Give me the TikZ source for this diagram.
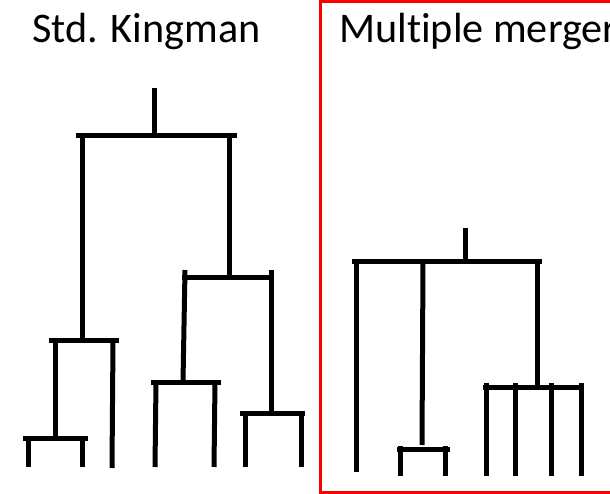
\documentclass[tikz,border=0pt]{standalone}
\usepackage{fontspec}
\setmainfont{Carlito}[Ligatures=NoCommon]
\begin{document}
\begin{tikzpicture}[x=1pt,y=-1pt,
  br/.style={line width=5pt, black},
  ttl/.style={anchor=base west, inner sep=0pt, font=\fontsize{42.2}{42}\selectfont}]
\useasboundingbox (0,0) rectangle (610,494);
\clip (0,0) rectangle (610,494);
% titles
\node[ttl] (t1) at (32,42.5) {Std. Kingman};
\node[ttl] (t2) at (339,42.5) {Multiple merger};
% red frame
\draw[red, line width=3pt] (320,1.5) rectangle (640,492);
% ---- standard Kingman tree ----
\draw[br] (154,88) -- (154,136);
\draw[br] (76,136) -- (237,136);
\draw[br] (82,136) -- (82,340);
\draw[br] (229,136) -- (229,277);
\draw[br] (49,340) -- (119,340);
\draw[br] (55,340) -- (55,438);
\draw[br] (113,340) -- (112,468);
\draw[br] (23,438) -- (88,438);
\draw[br] (28,438) -- (28,467);
\draw[br] (82,438) -- (82,467);
\draw[br] (182,277) -- (274,277);
\draw[br] (185,270) -- (183,382);
\draw[br] (271,270) -- (271,413);
\draw[br] (151,382) -- (221,382);
\draw[br] (156,382) -- (155,467);
\draw[br] (215,382) -- (214,467);
\draw[br] (240,413) -- (305,413);
\draw[br] (245,413) -- (245,467);
\draw[br] (301,413) -- (301,467);
% ---- multiple merger tree ----
\draw[br] (465,228) -- (465,262);
\draw[br] (352,262) -- (542,262);
\draw[br] (356,262) -- (356,472);
\draw[br] (423,262) -- (422,445);
\draw[br] (537,262) -- (537,387);
\draw[br] (397,449) -- (450,449);
\draw[br] (400,446) -- (400,476);
\draw[br] (445,446) -- (445,476);
\draw[br] (483,387) -- (582,387);
\foreach \xx in {486,515,551,581} \draw[br] (\xx,383) -- (\xx,476);
\end{tikzpicture}
\end{document}
